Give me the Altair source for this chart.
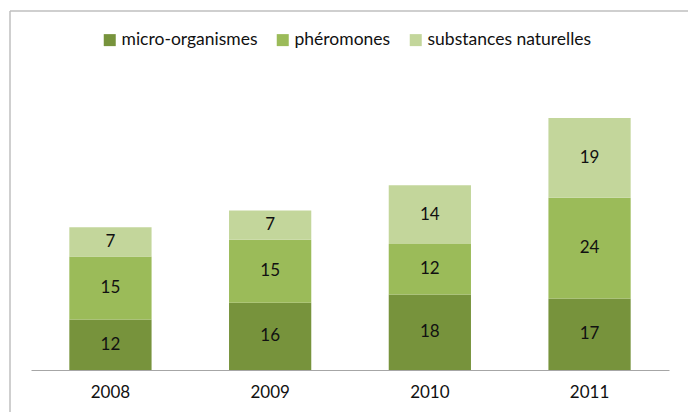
import altair as alt
import pandas as pd

years = ["2008", "2009", "2010", "2011"]
series = ["micro-organismes", "phéromones", "substances naturelles"]
micro = [12, 16, 18, 17]
phero = [15, 15, 12, 24]
subst = [7, 7, 14, 19]
colors = ["#77933C", "#9BBB59", "#C3D69B"]

rows = []
for i, y in enumerate(years):
    for k, (s, vals) in enumerate(zip(series, [micro, phero, subst])):
        rows.append({"annee": y, "serie": s, "ordre": k, "valeur": vals[i]})
df = pd.DataFrame(rows)

FONT = "Lato"
TXT = "#111111"

base = alt.Chart(df).transform_stack(
    stack="valeur", groupby=["annee"], as_=["v0", "v1"],
    sort=[alt.SortField("ordre", order="ascending")]
).transform_calculate(mid="(datum.v0 + datum.v1) / 2")

xenc = alt.X("annee:N", sort=years, title=None,
             scale=alt.Scale(paddingInner=0.485, paddingOuter=0.24),
             axis=alt.Axis(labelAngle=0, ticks=False, labelPadding=14,
                           labelFontSize=17, labelFont=FONT, labelColor=TXT,
                           domainColor="#A6A6A6", domainWidth=1, grid=False))

bars = base.mark_bar().encode(
    x=xenc,
    y=alt.Y("v0:Q", scale=alt.Scale(domain=[0, 70], nice=False), axis=None),
    y2="v1:Q",
    color=alt.Color("serie:N", sort=series,
                    scale=alt.Scale(domain=series, range=colors),
                    legend=alt.Legend(title=None, orient="none", direction="horizontal",
                                      legendX=70, legendY=-45,
                                      symbolType="square", symbolSize=144,
                                      symbolStrokeWidth=0, symbolOpacity=1,
                                      labelFontSize=17.5, labelFont=FONT,
                                      labelColor=TXT, columnPadding=16,
                                      labelOffset=3, labelLimit=400)),
    order=alt.Order("ordre:Q"),
)

labels = base.mark_text(fontSize=17, font=FONT, color=TXT, baseline="middle").encode(
    x=alt.X("annee:N", sort=years),
    y=alt.Y("mid:Q"),
    text="valeur:Q",
)

frame_top = alt.Chart(pd.DataFrame({"a": [0]})).mark_rule(color="#BFBFBF", strokeWidth=1.5).encode(
    x=alt.value(-21), x2=alt.value(700), y=alt.value(-65))
frame_left = alt.Chart(pd.DataFrame({"a": [0]})).mark_rule(color="#BFBFBF", strokeWidth=1.5).encode(
    x=alt.value(-21), y=alt.value(-65), y2=alt.value(400))

chart = alt.layer(bars, labels, frame_top, frame_left).properties(
    width=638, height=294,
    padding={"left": 31, "top": 76, "right": 19, "bottom": 42},
    autosize="none",
    background="white",
).configure_view(stroke=None)

chart.save("out.html", embed_options={"renderer": "svg", "actions": False})
